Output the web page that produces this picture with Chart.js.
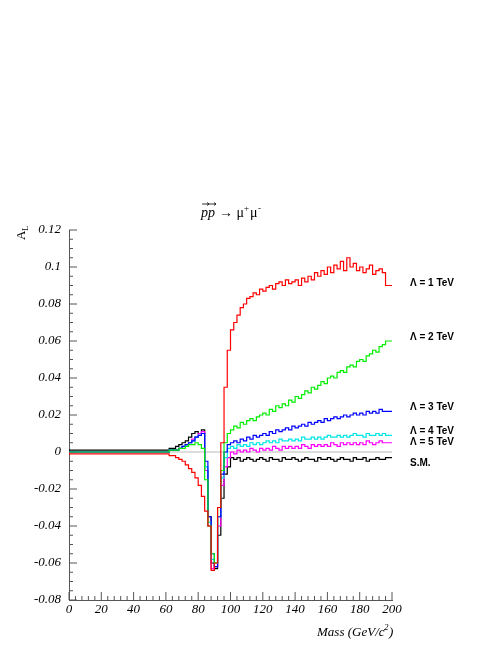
<!DOCTYPE html>
<html>
<head>
<meta charset="utf-8">
<script src="https://cdn.jsdelivr.net/npm/chart.js@4"></script>
<style>
  html, body { margin: 0; padding: 0; background: #fff; }
  #wrap { width: 498px; height: 645px; }
</style>
</head>
<body>
<div id="wrap"><canvas id="c" width="498" height="645"></canvas></div>
<script>
// bin left edges: one flat bin 0-60, then 2 GeV bins 60..198
const edges = [0];
for (let k = 0; k < 70; k++) edges.push(60 + 2 * k);

const seriesNames = ["S.M.", "Λ = 5 TeV", "Λ = 4 TeV", "Λ = 3 TeV", "Λ = 2 TeV", "Λ = 1 TeV"];
const seriesColors = ["#000000", "#ff00ff", "#00e5e5", "#0000ff", "#00ee00", "#ff0000"];

const smVals = [0, 0.001,0.001,0.002,0.002,0.003, 0.004,0.005,0.006,0.008,0.010, 0.011,0.010,0.012,
  -0.010,-0.035,-0.060,-0.063,-0.045,-0.025,-0.012,-0.008,
  -0.003,-0.004,-0.003,-0.005,-0.004,-0.003,-0.004,-0.005,-0.004,-0.003,
  -0.004,-0.005,-0.003,-0.004,-0.004,-0.005,-0.003,-0.004,-0.004,-0.003,
  -0.004,-0.005,-0.004,-0.003,-0.004,-0.004,-0.005,-0.003,-0.004,-0.004,
  -0.003,-0.004,-0.005,-0.004,-0.003,-0.004,-0.004,-0.005,-0.003,-0.004,
  -0.004,-0.003,-0.005,-0.004,-0.004,-0.003,-0.004,-0.004,-0.003];
const l5Vals = [0, 0,0,0.001,0.001,0.001, 0.002,0.003,0.004,0.005,0.007, 0.008,0.010,0.011,
  -0.010,-0.040,-0.063,-0.062,-0.040,-0.018,-0.008,-0.003,
  0.000,-0.001,0.001,0.000,0.001,0.000,0.002,0.001,0.000,0.002,
  0.001,0.002,0.001,0.003,0.002,0.001,0.003,0.002,0.003,0.002,
  0.003,0.002,0.004,0.003,0.002,0.004,0.003,0.004,0.003,0.004,
  0.003,0.005,0.004,0.003,0.005,0.004,0.005,0.004,0.005,0.004,
  0.005,0.004,0.006,0.005,0.004,0.005,0.006,0.005,0.005];
const l4Vals = [0, 0,0,0.001,0.001,0.001, 0.002,0.003,0.004,0.005,0.006, 0.008,0.009,0.010,
  -0.008,-0.038,-0.058,-0.060,-0.035,-0.014,-0.003,0.002,
  0.003,0.002,0.004,0.003,0.004,0.003,0.005,0.004,0.005,0.004,
  0.005,0.006,0.005,0.006,0.005,0.007,0.006,0.006,0.007,0.006,
  0.007,0.006,0.008,0.007,0.007,0.008,0.007,0.008,0.007,0.008,
  0.009,0.008,0.008,0.009,0.008,0.009,0.008,0.009,0.010,0.009,
  0.009,0.008,0.010,0.009,0.009,0.010,0.009,0.010,0.009];
const l3Vals = [0, 0,0,0.001,0.001,0.001, 0.002,0.003,0.004,0.005,0.006, 0.008,0.009,0.010,
  -0.005,-0.035,-0.055,-0.062,-0.035,-0.012,0.000,0.004,
  0.005,0.006,0.005,0.007,0.006,0.008,0.007,0.009,0.008,0.009,
  0.010,0.009,0.011,0.010,0.012,0.011,0.012,0.013,0.012,0.014,
  0.013,0.014,0.015,0.014,0.016,0.015,0.016,0.017,0.016,0.018,
  0.017,0.018,0.019,0.018,0.019,0.020,0.019,0.020,0.021,0.020,
  0.021,0.020,0.022,0.021,0.022,0.021,0.023,0.022,0.022];
const l2Vals = [0, 0,0,0.001,0.001,0.001, 0.002,0.002,0.003,0.004,0.004, 0.005,0.004,0.002,
  -0.015,-0.040,-0.055,-0.060,-0.030,-0.010,0.005,0.010,
  0.012,0.014,0.013,0.016,0.015,0.017,0.018,0.017,0.019,0.020,
  0.021,0.020,0.023,0.022,0.025,0.024,0.026,0.025,0.028,0.027,
  0.030,0.029,0.031,0.033,0.032,0.035,0.034,0.036,0.038,0.037,
  0.040,0.041,0.040,0.043,0.044,0.043,0.046,0.047,0.046,0.049,
  0.050,0.049,0.052,0.053,0.055,0.054,0.057,0.058,0.060];
const l1Vals = [0, -0.001,-0.001,-0.002,-0.002,-0.003, -0.004,-0.005,-0.007,-0.009,-0.011, -0.014,-0.018,-0.024,
  -0.032,-0.040,-0.064,-0.060,-0.030,0.005,0.035,0.055,
  0.066,0.070,0.074,0.078,0.080,0.083,0.084,0.086,0.085,0.088,
  0.087,0.089,0.090,0.088,0.091,0.092,0.090,0.093,0.091,0.092,
  0.093,0.090,0.094,0.092,0.095,0.093,0.097,0.095,0.098,0.096,
  0.100,0.097,0.101,0.099,0.103,0.098,0.105,0.100,0.102,0.098,
  0.100,0.097,0.099,0.101,0.096,0.098,0.099,0.097,0.090];

const labelY = [-0.006, 0.0054, 0.011, 0.024, 0.062, 0.091];

const allVals = [smVals, l5Vals, l4Vals, l3Vals, l2Vals, l1Vals];

function histPoints(vals) {
  const pts = edges.map((x, i) => ({ x, y: vals[i] }));
  pts.push({ x: 200, y: vals[vals.length - 1] });
  return pts;
}

const order = [5, 4, 3, 2, 1, 0];
const datasets = order.map((i) => ({
  label: seriesNames[i],
  data: histPoints(allVals[i]),
  borderColor: seriesColors[i],
  borderWidth: 1.2,
  pointRadius: 0,
  stepped: "after",
  fill: false,
}));

const decorations = {
  id: "decorations",
  beforeDatasetsDraw(chart) {
    const { ctx, scales: { x, y } } = chart;
    ctx.save();
    ctx.strokeStyle = "#bbbbbb";
    ctx.lineWidth = 1;
    ctx.beginPath();
    ctx.moveTo(x.getPixelForValue(0), y.getPixelForValue(0));
    ctx.lineTo(x.getPixelForValue(200), y.getPixelForValue(0));
    ctx.stroke();
    // inward ticks, ROOT style
    ctx.strokeStyle = "#555";
    ctx.beginPath();
    for (let v = 0; v <= 200; v += 4) {
      const px = x.getPixelForValue(v), len = v % 20 === 0 ? 8 : 4;
      ctx.moveTo(px, y.bottom); ctx.lineTo(px, y.bottom - len);
    }
    for (let i = 0; i <= 40; i++) {
      const v = -0.08 + i * 0.005, py = y.getPixelForValue(v), len = i % 4 === 0 ? 8 : 4;
      ctx.moveTo(x.left, py); ctx.lineTo(x.left + len, py);
    }
    ctx.stroke();
    ctx.restore();
  },
  afterDraw(chart) {
    const { ctx, scales: { y } } = chart;
    ctx.save();
    ctx.fillStyle = "#000";
    ctx.strokeStyle = "#000";
    ctx.font = "bold 10px 'Liberation Sans', Arial, sans-serif";
    ctx.textBaseline = "middle";
    seriesNames.forEach((n, i) => ctx.fillText(n, 410, y.getPixelForValue(labelY[i])));

    // title
    ctx.font = "italic 14px 'Liberation Serif', serif";
    ctx.textBaseline = "alphabetic";
    ctx.fillText("pp", 201, 217);
    ctx.beginPath();
    ctx.lineWidth = 0.8;
    [[202, 209], [209, 216]].forEach(([a, b]) => {
      ctx.moveTo(a, 204); ctx.lineTo(b, 204);
      ctx.moveTo(b - 2, 202.5); ctx.lineTo(b, 204); ctx.lineTo(b - 2, 205.5);
    });
    ctx.stroke();
    ctx.font = "14px 'Liberation Serif', serif";
    ctx.fillText("→ μ", 219, 217);
    ctx.font = "9px 'Liberation Serif', serif";
    ctx.fillText("+", 244, 211);
    ctx.font = "14px 'Liberation Serif', serif";
    ctx.fillText("μ", 250, 217);
    ctx.font = "9px 'Liberation Serif', serif";
    ctx.fillText("-", 258, 211);

    // x axis title
    ctx.font = "italic 13px 'Liberation Serif', serif";
    ctx.fillText("Mass (GeV/c", 317, 636);
    ctx.font = "italic 9px 'Liberation Serif', serif";
    ctx.fillText("2", 384, 630);
    ctx.font = "italic 13px 'Liberation Serif', serif";
    ctx.fillText(")", 389, 636);

    // y axis title
    ctx.translate(25, 240);
    ctx.rotate(-Math.PI / 2);
    ctx.font = "13px 'Liberation Serif', serif";
    ctx.fillText("A", 0, 0);
    ctx.font = "9px 'Liberation Serif', serif";
    ctx.fillText("L", 9, 3);
    ctx.restore();
  },
};

new Chart(document.getElementById("c"), {
  type: "line",
  data: { datasets },
  options: {
    responsive: false,
    animation: false,
    layout: { padding: { left: 0, right: 106, top: 230, bottom: 15 } },
    plugins: { legend: { display: false }, tooltip: { enabled: false } },
    scales: {
      x: {
        type: "linear",
        min: 0,
        max: 200,
        ticks: {
          stepSize: 20,
          color: "#000",
          font: { family: "'Liberation Serif', serif", style: "italic", size: 13 },
          padding: 2,
        },
        grid: { display: false, drawTicks: false },
        border: { color: "#555", width: 1 },
        afterFit: (s) => { s.height = 30; },
      },
      y: {
        min: -0.08,
        max: 0.12,
        ticks: {
          stepSize: 0.02,
          color: "#000",
          font: { family: "'Liberation Serif', serif", style: "italic", size: 13 },
          padding: 8,
          callback: (v) => (Math.abs(v) < 1e-9 ? "0" : String(parseFloat(v.toFixed(2)))),
        },
        grid: { display: false, drawTicks: false },
        border: { color: "#555", width: 1 },
        afterFit: (s) => { s.width = 69; },
      },
    },
  },
  plugins: [decorations],
});
</script>
</body>
</html>
